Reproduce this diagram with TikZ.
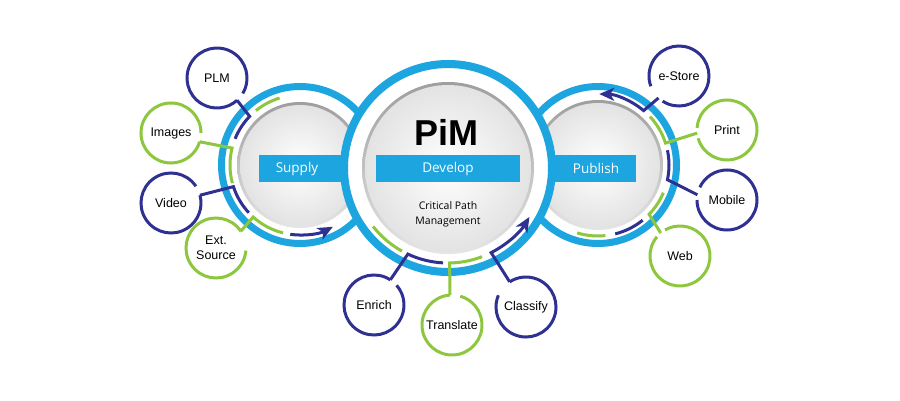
\documentclass[tikz,border=0pt]{standalone}
\usepackage{fontspec}
\setmainfont{Liberation Sans}
\newfontfamily\boxfont{Open Sans}
\usetikzlibrary{arrows.meta}
\definecolor{pimblue}{HTML}{1DA5E0}
\definecolor{pimnavy}{HTML}{2E3192}
\definecolor{pimgreen}{HTML}{8DC63F}

\begin{document}
\begin{tikzpicture}[x=1pt, y=1pt,
  item/.style={circle, inner sep=0pt, outer sep=0pt, minimum size=60pt, align=center,
    font=\fontsize{12.5}{15}\selectfont},
  navyline/.style={pimnavy, line width=3pt},
  greenline/.style={pimgreen, line width=3pt},
  tip/.style={-{Stealth[length=15pt, width=13pt, inset=4pt]}},
  rim/.style={top color=black!38, bottom color=black!10},
  face/.style={inner color=white, outer color=black!11},
  bartext/.style={text=white, font=\boxfont\fontsize{13.5}{16}\selectfont}]
\useasboundingbox (0,0) rectangle (900,400);

% side circles
\node[circle, inner sep=0pt, minimum size=164pt] (supply) at (300,235) {};
\draw[pimblue, line width=7pt, fill=white] (supply) circle[radius=78.5pt];
\shade[rim] (supply) circle[radius=63pt];
\shade[face] (supply) circle[radius=60pt];
\node[circle, inner sep=0pt, minimum size=164pt] (publish) at (598,235) {};
\draw[pimblue, line width=7pt, fill=white] (publish) circle[radius=78.5pt];
\shade[rim] (publish) circle[radius=65pt];
\shade[face] (publish) circle[radius=62pt];
\fill[pimblue] (259,218) rectangle (350,245);
\node[bartext] (supplylabel) at (297,231.5) {Supply};
\fill[pimblue] (548,218) rectangle (636,245);
\node[bartext] (publishlabel) at (596,231.5) {Publish};

% centre circle
\node[circle, inner sep=0pt, minimum size=216pt] (develop) at (448,232) {};
\draw[pimblue, line width=8pt, fill=white] (develop) circle[radius=104pt];
\shade[rim] (develop) circle[radius=86pt];
\shade[face] (develop) circle[radius=83pt];
\node[fill=pimblue, minimum width=144pt, minimum height=27pt, inner sep=0pt, bartext]
  (developbar) at (448,231.5) {Develop};
\node[font=\bfseries\fontsize{36}{40}\selectfont] (pim) at (446,268) {PiM};
\node[font=\boxfont\fontsize{10.5}{15}\selectfont, align=center] (cpm) at (448,185.5)
  {Critical Path\\Management};

% supply side
\node[item] (plm) at (217,322) {PLM};
\node[item] (images) at (171,267) {Images};
\node[item] (video) at (171,197) {Video};
\node[item] (ext) at (216,152) {Ext.\\Source};
\draw[navyline] (plm.-31) arc[start angle=-31, end angle=312, radius=30pt];
\draw[greenline] (images.0) arc[start angle=0, end angle=343, radius=30pt];
\draw[navyline] (video.34) arc[start angle=34, end angle=375, radius=30pt];
\draw[greenline] (ext.34) arc[start angle=34, end angle=355, radius=30pt];
\path (supply) ++(136:70) coordinate (plmend);
\path (supply) ++(166:70) coordinate (imagesend);
\path (supply) ++(198:70) coordinate (videoend);
\path (supply) ++(228:70) coordinate (extend);
\draw[navyline] (plm.-48) -- (plmend) arc[start angle=136, end angle=158, radius=70pt];
\draw[greenline] (images.-17) -- (imagesend) arc[start angle=166, end angle=195, radius=70pt];
\draw[navyline] (video.15) -- (videoend) arc[start angle=198, end angle=223, radius=70pt];
\draw[greenline] (ext.34) -- (extend) arc[start angle=228, end angle=256, radius=70pt];
\draw[greenline] (supply) ++(107:70) arc[start angle=107, end angle=129, radius=70pt];
\draw[navyline, tip] (supply) ++(262:70) arc[start angle=262, end angle=298, radius=70pt];

% develop side
\node[item] (enrich) at (374,95) {Enrich};
\node[item] (translate) at (452,75) {Translate};
\node[item] (classify) at (526,93) {Classify};
\draw[navyline] (enrich.57) arc[start angle=57, end angle=401, radius=30pt];
\draw[greenline] (translate.94) arc[start angle=94, end angle=434, radius=30pt];
\draw[navyline] (classify.157) arc[start angle=157, end angle=483, radius=30pt];
\path (develop) ++(245:95) coordinate (enrichend);
\path (develop) ++(271:95) coordinate (translateend);
\path (develop) ++(297:95) coordinate (classifyend);
\draw[navyline] (enrich.57) -- (enrichend) arc[start angle=245, end angle=267, radius=95pt];
\draw[greenline] (translate.94) -- (translateend) arc[start angle=271, end angle=291, radius=95pt];
\draw[navyline, tip] (classify.123) -- (classifyend) arc[start angle=297, end angle=329, radius=95pt];
\draw[greenline] (develop) ++(218:95) arc[start angle=218, end angle=241, radius=95pt];

% publish side
\node[item] (estore) at (679,324) {e-Store};
\node[item] (print) at (727,270) {Print};
\node[item] (mobile) at (727,200) {Mobile};
\node[item] (web) at (680,144) {Web};
\draw[navyline] (estore.237) arc[start angle=237, end angle=560, radius=30pt];
\draw[greenline] (print.196) arc[start angle=196, end angle=536, radius=30pt];
\draw[navyline] (mobile.180) arc[start angle=180, end angle=515, radius=30pt];
\draw[greenline] (web.140) arc[start angle=140, end angle=480, radius=30pt];
\path (publish) ++(50:71) coordinate (estoreend);
\path (publish) ++(18:71) coordinate (printend);
\path (publish) ++(-12:71) coordinate (mobileend);
\path (publish) ++(-44:71) coordinate (webend);
\draw[navyline, tip] (estore.227) -- (estoreend) arc[start angle=50, end angle=89, radius=71pt];
\draw[greenline] (print.186) -- (printend) arc[start angle=18, end angle=43, radius=71pt];
\draw[navyline] (mobile.170) -- (mobileend) arc[start angle=-12, end angle=12, radius=71pt];
\draw[greenline] (web.130) -- (webend) arc[start angle=-44, end angle=-23, radius=71pt];
\draw[navyline] (publish) ++(-76:71) arc[start angle=-76, end angle=-51, radius=71pt];
\draw[greenline] (publish) ++(-107:71) arc[start angle=-107, end angle=-84, radius=71pt];
\end{tikzpicture}
\end{document}
